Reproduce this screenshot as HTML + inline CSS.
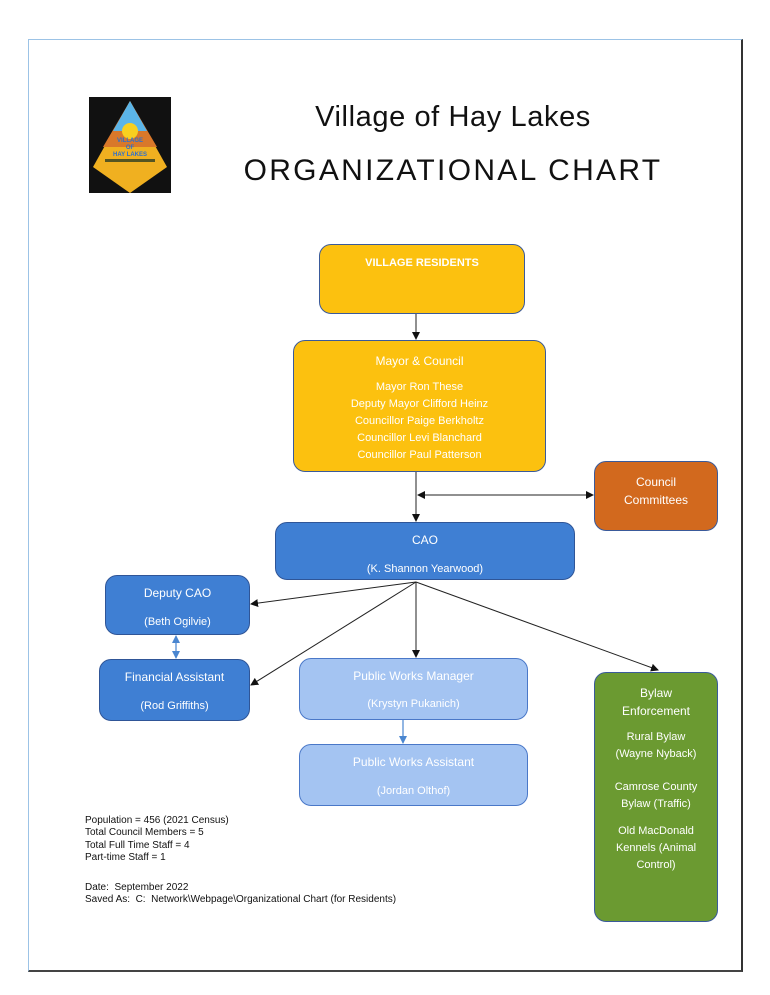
<!DOCTYPE html>
<html><head><style>
body{margin:0;width:770px;height:995px;background:#fff;position:relative;font-family:"Liberation Sans",sans-serif;overflow:hidden}
.frame{position:absolute;left:28px;top:39px;width:712px;height:930px;border:1px solid #9cc3e6;border-right:2px solid #333;border-bottom:2px solid #444}
.b{position:absolute;box-sizing:border-box;border-radius:12px;color:#fff;text-align:center;font-size:11px;border:1.5px solid #2f5597}
.y{background:#fcc10f;border-color:#3a5a9a}
.d{background:#3f7fd3}
.l{background:#a4c4f2;border-color:#4a78c8}
.o{background:#d2691e;border-color:#3a5a9a}
.g{background:#6b9a31;border-color:#3a5a9a}
.t{position:absolute;font-family:"Liberation Sans",sans-serif;color:#111;font-size:10px;line-height:12.3px;left:85px}
.h{position:absolute;left:0;width:770px;text-align:center;font-family:"Liberation Sans",sans-serif;color:#111}
</style></head><body>
<div class="frame"></div>
<div style="position:absolute;left:89px;top:97px;width:82px;height:96px;background:#111"></div>
<svg style="position:absolute;left:89px;top:97px" width="82" height="96">
<polygon points="41,4 78,70 41,96 4,70" fill="#f0b020"/>
<polygon points="41,4 68,50 14,50" fill="#d9782a"/>
<polygon points="41,4 58,34 24,34" fill="#5bb5e8"/>
<circle cx="41" cy="34" r="8" fill="#f8d020"/>
<text x="41" y="45" font-size="6" text-anchor="middle" fill="#2a6fd0" font-weight="bold">VILLAGE</text>
<text x="41" y="52" font-size="6" text-anchor="middle" fill="#2a6fd0" font-weight="bold">OF</text>
<text x="41" y="59" font-size="6" text-anchor="middle" fill="#2a6fd0" font-weight="bold">HAY LAKES</text>
<rect x="16" y="62" width="50" height="3" fill="#552"/>
</svg>
<div class="h" style="top:101px;left:68px;font-size:29px;letter-spacing:0.6px">Village of Hay Lakes</div>
<div class="h" style="top:154px;left:68px;font-size:30px;letter-spacing:2.3px">ORGANIZATIONAL CHART</div>

<svg style="position:absolute;left:0;top:0" width="770" height="995">
<defs>
<marker id="a" markerWidth="8" markerHeight="8" refX="7" refY="4" orient="auto-start-reverse" markerUnits="userSpaceOnUse"><path d="M0,0 L8,4 L0,8z" fill="#111"/></marker>
<marker id="c" markerWidth="8" markerHeight="8" refX="7" refY="4" orient="auto-start-reverse" markerUnits="userSpaceOnUse"><path d="M0,0 L8,4 L0,8z" fill="#4a86d0"/></marker>
</defs>
<g stroke="#222" stroke-width="1" fill="none">
<line x1="416" y1="313" x2="416" y2="339" marker-end="url(#a)"/>
<line x1="416" y1="472" x2="416" y2="521" marker-end="url(#a)"/>
<line x1="418" y1="495" x2="593" y2="495" marker-start="url(#a)" marker-end="url(#a)"/>
<line x1="416" y1="582" x2="251" y2="604" marker-end="url(#a)"/>
<line x1="416" y1="582" x2="251" y2="685" marker-end="url(#a)"/>
<line x1="416" y1="582" x2="416" y2="657" marker-end="url(#a)"/>
<line x1="416" y1="582" x2="658" y2="670" marker-end="url(#a)"/>
</g>
<g stroke="#4a86d0" stroke-width="1.2">
<line x1="176" y1="636" x2="176" y2="658" marker-start="url(#c)" marker-end="url(#c)"/>
<line x1="403" y1="720" x2="403" y2="743" marker-end="url(#c)"/>
</g>
</svg>

<div class="b y" style="left:319px;top:244px;width:206px;height:70px;font-weight:bold;padding-top:12px">VILLAGE RESIDENTS</div>
<div class="b y" style="left:293px;top:340px;width:253px;height:132px;padding-top:12px;line-height:17px"><div style="font-size:12px;margin-bottom:9px">Mayor &amp; Council</div>Mayor Ron These<br>Deputy Mayor Clifford Heinz<br>Councillor Paige Berkholtz<br>Councillor Levi Blanchard<br>Councillor Paul Patterson</div>
<div class="b o" style="left:594px;top:461px;width:124px;height:70px;padding-top:11px;line-height:18px;font-size:12px">Council<br>Committees</div>
<div class="b d" style="left:275px;top:522px;width:300px;height:58px;padding-top:3px;line-height:28px;font-size:11px"><span style="font-size:12px">CAO</span><br>(K. Shannon Yearwood)</div>
<div class="b d" style="left:105px;top:575px;width:145px;height:60px;padding-top:3px;line-height:28px"><span style="font-size:12px">Deputy CAO</span><br>(Beth Ogilvie)</div>
<div class="b d" style="left:99px;top:659px;width:151px;height:62px;padding-top:3px;line-height:28px"><span style="font-size:12px">Financial Assistant</span><br>(Rod Griffiths)</div>
<div class="b l" style="left:299px;top:658px;width:229px;height:62px;padding-top:4px;line-height:27px"><span style="font-size:12px">Public Works Manager</span><br>(Krystyn Pukanich)</div>
<div class="b l" style="left:299px;top:744px;width:229px;height:62px;padding-top:3px;line-height:28px"><span style="font-size:12px">Public Works Assistant</span><br>(Jordan Olthof)</div>
<div class="b g" style="left:594px;top:672px;width:124px;height:250px;padding-top:11px;line-height:17px"><div style="font-size:12px;line-height:18px;margin-bottom:9px">Bylaw<br>Enforcement</div>Rural Bylaw<br>(Wayne Nyback)<div style="height:16px"></div>Camrose County<br>Bylaw (Traffic)<div style="height:10px"></div>Old MacDonald<br>Kennels (Animal<br>Control)</div>

<div class="t" style="top:815px">Population = 456 (2021 Census)<br>Total Council Members = 5<br>Total Full Time Staff = 4<br>Part-time Staff = 1</div>
<div class="t" style="top:882px">Date:&nbsp; September 2022<br>Saved As:&nbsp; C:&nbsp; Network\Webpage\Organizational Chart (for Residents)</div>
</body></html>
